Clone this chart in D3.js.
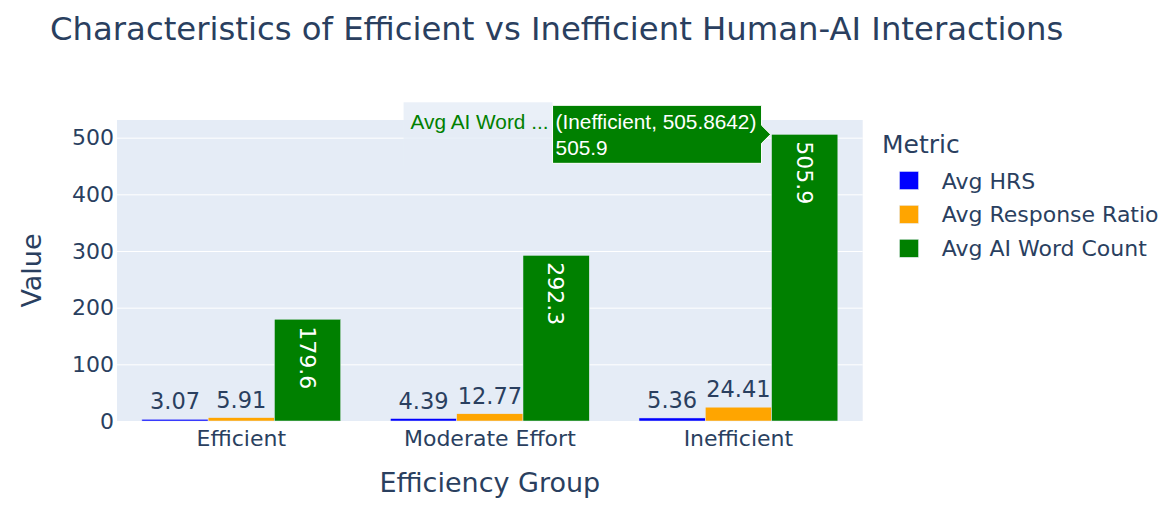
<!DOCTYPE html>
<html lang="en">
<head>
<meta charset="UTF-8">
<title>Characteristics of Efficient vs Inefficient Human-AI Interactions</title>
<script src="https://cdn.jsdelivr.net/npm/d3@7"></script>
<style>
  body { margin: 0; background: #fff; }
  svg { display: block; font-family: Verdana, "DejaVu Sans", sans-serif; }
</style>
</head>
<body>
<svg class="root"></svg>
<script>
// data
const groups = ["Efficient", "Moderate Effort", "Inefficient"];
const metrics = ["Avg HRS", "Avg Response Ratio", "Avg AI Word Count"];
const avgHrs = [3.07, 4.39, 5.36];
const avgResponseRatio = [5.91, 12.77, 24.41];
const avgAiWordCount = [179.6, 292.3, 505.8642];
const yTicks = [0, 100, 200, 300, 400, 500];
const colors = ["#0000ff", "#ffa500", "#008000"];

const seriesValues = [avgHrs, avgResponseRatio, avgAiWordCount];

const width = 1174, height = 523;
const plot = {left: 117, right: 862.7, top: 120, bottom: 421};
const textColor = "#2a3f5f";
const plotBg = "#E5ECF6";

const svg = d3.select(".root")
    .attr("width", width)
    .attr("height", height);

svg.append("rect").attr("width", width).attr("height", height).attr("fill", "#fff");

const x = d3.scaleBand()
    .domain(groups)
    .range([plot.left, plot.right])
    .paddingInner(0.2)
    .paddingOuter(0.1);

const xInner = d3.scaleBand()
    .domain(metrics)
    .range([0, x.bandwidth()]);

const yMax = d3.max(avgAiWordCount) * 1.05;
const y = d3.scaleLinear()
    .domain([0, yMax])
    .range([plot.bottom, plot.top]);

// plot background
svg.append("rect")
    .attr("x", plot.left)
    .attr("y", plot.top)
    .attr("width", plot.right - plot.left)
    .attr("height", plot.bottom - plot.top)
    .attr("fill", plotBg);

// y axis (grid + labels)
const yAxis = g => g
    .attr("transform", `translate(${plot.left},0)`)
    .call(d3.axisLeft(y).tickValues(yTicks).tickSize(-(plot.right - plot.left)).tickPadding(3))
    .call(g => g.select(".domain").remove())
    .call(g => g.selectAll(".tick line").attr("stroke", "#fff").attr("stroke-width", 1))
    .call(g => g.selectAll(".tick text")
        .attr("fill", textColor)
        .attr("font-size", 22)
        .attr("font-family", "Verdana, 'DejaVu Sans', sans-serif"));
svg.append("g").call(yAxis);

// x axis labels
const xAxis = g => g
    .attr("transform", `translate(0,${plot.bottom})`)
    .call(d3.axisBottom(x).tickSize(0).tickPadding(9))
    .call(g => g.select(".domain").remove())
    .call(g => g.selectAll(".tick text")
        .attr("fill", textColor)
        .attr("font-size", 22)
        .attr("font-family", "Verdana, 'DejaVu Sans', sans-serif"));
svg.append("g").call(xAxis);

// bars
const series = metrics.map((m, i) => ({
    metric: m,
    color: colors[i],
    values: groups.map((grp, j) => ({group: grp, metric: m, value: seriesValues[i][j]}))
}));

const seriesG = svg.append("g")
    .selectAll("g")
    .data(series)
    .join("g")
    .attr("fill", d => d.color);

seriesG.selectAll("rect")
    .data(d => d.values)
    .join("rect")
    .attr("x", d => x(d.group) + xInner(d.metric))
    .attr("y", d => y(d.value))
    .attr("width", xInner.bandwidth())
    .attr("height", d => y(0) - y(d.value))
    .attr("stroke", plotBg)
    .attr("stroke-width", 0.5);

// bar labels: outside for small bars, rotated inside for big ones
const fmt = v => v >= 100 ? d3.format(".1f")(v) : d3.format(".2f")(v);
const fits = d => (y(0) - y(d.value)) > 70;

seriesG.selectAll("text.out")
    .data(d => d.values.filter(v => !fits(v)))
    .join("text")
    .attr("class", "out")
    .attr("x", d => x(d.group) + xInner(d.metric) + xInner.bandwidth() / 2)
    .attr("y", d => y(d.value) - 10)
    .attr("text-anchor", "middle")
    .attr("fill", textColor)
    .attr("font-size", 22.5)
    .text(d => fmt(d.value));

seriesG.selectAll("text.in")
    .data(d => d.values.filter(fits))
    .join("text")
    .attr("class", "in")
    .attr("transform", d => `translate(${x(d.group) + xInner(d.metric) + xInner.bandwidth() / 2},${y(d.value) + 7}) rotate(90)`)
    .attr("dy", "0.35em")
    .attr("text-anchor", "start")
    .attr("fill", "#fff")
    .attr("font-size", 22)
    .text(d => fmt(d.value));

// titles
svg.append("text")
    .attr("x", 50)
    .attr("y", 40)
    .attr("fill", textColor)
    .attr("font-size", 32.3)
    .text("Characteristics of Efficient vs Inefficient Human-AI Interactions");

svg.append("text")
    .attr("x", (plot.left + plot.right) / 2)
    .attr("y", 492)
    .attr("text-anchor", "middle")
    .attr("fill", textColor)
    .attr("font-size", 27)
    .text("Efficiency Group");

svg.append("text")
    .attr("transform", `translate(41,${(plot.top + plot.bottom) / 2}) rotate(-90)`)
    .attr("text-anchor", "middle")
    .attr("fill", textColor)
    .attr("font-size", 27)
    .text("Value");

// legend
const legend = svg.append("g").attr("transform", "translate(882,0)");
legend.append("text")
    .attr("x", 0)
    .attr("y", 153)
    .attr("fill", textColor)
    .attr("font-size", 25)
    .text("Metric");

const item = legend.selectAll("g.item")
    .data(series)
    .join("g")
    .attr("class", "item")
    .attr("transform", (d, i) => `translate(0,${180.5 + i * 33.9})`);
item.append("rect")
    .attr("x", 17.5)
    .attr("y", -9)
    .attr("width", 19)
    .attr("height", 18)
    .attr("fill", d => d.color)
    .attr("stroke", plotBg)
    .attr("stroke-width", 0.5);
item.append("text")
    .attr("x", 59.7)
    .attr("y", 8)
    .attr("fill", textColor)
    .attr("font-size", 22)
    .text(d => d.metric);

// hover label on the Inefficient / Avg AI Word Count bar
const hoverIdx = 2;
const hv = series[2].values[hoverIdx];
const tipX = x(hv.group) + xInner(hv.metric) - 1;
const tipY = y(hv.value);
const hover = svg.append("g")
    .attr("transform", `translate(${tipX},${tipY})`)
    .style("font-family", "Arial, 'Liberation Sans', sans-serif")
    .style("font-size", "20.8px");

const boxW = 209, boxH = 58, arrow = 9;
hover.append("rect")
    .attr("x", -arrow - boxW - 149)
    .attr("y", -32)
    .attr("width", 149)
    .attr("height", 64)
    .attr("fill", plotBg)
    .attr("fill-opacity", 0.8);
hover.append("text")
    .attr("x", -arrow - boxW - 142)
    .attr("y", -5)
    .attr("fill", "#008000")
    .text("Avg AI Word ...");

hover.append("path")
    .attr("d", `M0,0L${-arrow},${-arrow}V${-boxH / 2}H${-arrow - boxW}V${boxH / 2}H${-arrow}V${arrow}Z`)
    .attr("fill", "#008000")
    .attr("stroke", "#fff")
    .attr("stroke-width", 1);
hover.append("text")
    .attr("x", -arrow - boxW + 3)
    .attr("y", -5)
    .attr("fill", "#fff")
    .text(`(${hv.group}, ${hv.value})`);
hover.append("text")
    .attr("x", -arrow - boxW + 3)
    .attr("y", 21)
    .attr("fill", "#fff")
    .text(d3.format(".1f")(hv.value));
</script>
</body>
</html>
